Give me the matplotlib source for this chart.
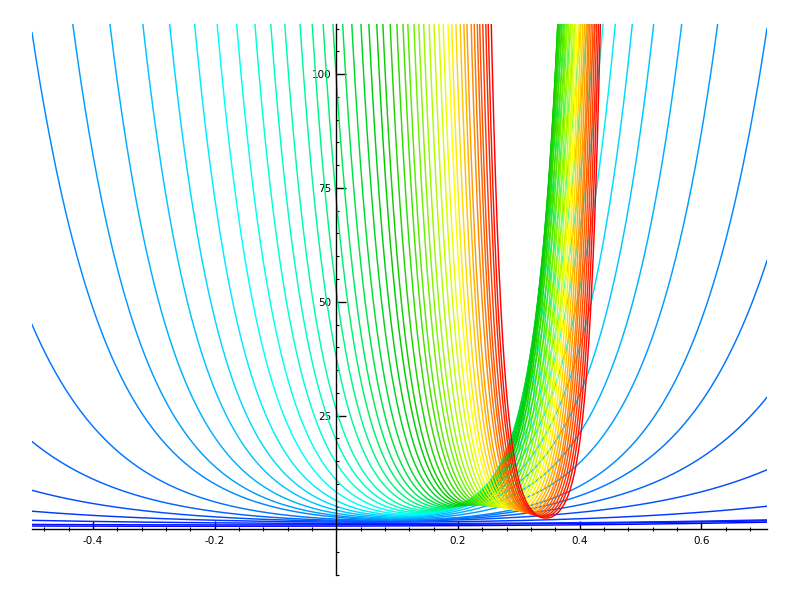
import colorsys

import matplotlib
matplotlib.use('Agg')
import matplotlib.pyplot as plt
from matplotlib.ticker import FixedLocator, MultipleLocator
import numpy as np

plt.rcParams['axes.unicode_minus'] = False

X_MIN, X_MAX = -0.5, 0.708
Y_MIN, Y_MAX = -10, 111
WALL_Y = 110.0          # height at which the branch positions were read
BASE = 0.5              # floor shared by every curve

# flattest curves (walls outside the view): value at x=-0.5, value at x=0.708, minimum
edge_left = [0.75, 1.1, 2.0, 4.0, 8.6, 19.3, 45.0]
edge_right = [1.6, 1.9, 2.1, 5.1, 13.1, 29.0, 59.0]
edge_min = [0.7, 1.0, 1.3, 1.6, 1.8, 1.9, 2.0]

# remaining curves: x where left / right branch reach y=110, and minimum value
wall_left = [-0.501, -0.432, -0.371, -0.317, -0.273, -0.232, -0.195, -0.163,
             -0.133, -0.107, -0.084, -0.059, -0.039, -0.021, -0.005, 0.011,
             0.026, 0.041, 0.054, 0.067, 0.077, 0.089, 0.100, 0.110,
             0.118, 0.128, 0.136, 0.144, 0.153, 0.161, 0.169, 0.176,
             0.184, 0.190, 0.197, 0.204, 0.210, 0.215, 0.222, 0.227,
             0.232, 0.236, 0.241, 0.246, 0.250, 0.255]
wall_right = [0.708, 0.626, 0.567, 0.521, 0.486, 0.458, 0.438, 0.425,
              0.412, 0.401, 0.392, 0.385, 0.379, 0.375, 0.371, 0.368,
              0.366, 0.365, 0.364, 0.364, 0.364, 0.365, 0.367, 0.370,
              0.373, 0.376, 0.379, 0.382, 0.385, 0.388, 0.391, 0.393,
              0.396, 0.399, 0.402, 0.405, 0.408, 0.411, 0.414, 0.416,
              0.419, 0.422, 0.425, 0.428, 0.431, 0.434]
wall_min = [2.1, 2.3, 2.5, 2.7, 2.9, 3.1, 3.3, 3.5,
            3.7, 3.9, 4.1, 4.3, 4.5, 4.7, 4.9, 5.0,
            5.1, 5.2, 5.3, 5.35, 5.4, 5.4, 5.4, 5.35,
            5.3, 5.2, 5.1, 5.0, 4.9, 4.8, 4.7, 4.6,
            4.5, 4.35, 4.2, 4.05, 3.9, 3.75, 3.6, 3.45,
            3.3, 3.15, 3.0, 2.85, 2.7, 2.5]


def from_edges(v_l, v_r, y_min):
    amp = y_min - BASE
    p_l = np.arccosh(max((v_l - BASE) / amp, 1.0))
    p_r = np.arccosh(max((v_r - BASE) / amp, 1.0))
    rate = (p_l + p_r) / (X_MAX - X_MIN)
    centre = X_MIN + p_l / rate
    return centre, rate, amp


def from_walls(x_l, x_r, y_min):
    amp = y_min - BASE
    half = (x_r - x_l) / 2
    rate = np.arccosh((WALL_Y - BASE) / amp) / half
    return (x_l + x_r) / 2, rate, amp


def curve_colour(t):
    h = 0.667 * (1 - t)
    # greens in the reference come out a little deeper than pure hsv green
    v = 1 - 0.2 * np.exp(-((h - 0.333) / 0.07) ** 2)
    return colorsys.hsv_to_rgb(h, 1, v)


params = [from_edges(*v) for v in zip(edge_left, edge_right, edge_min)]
params += [from_walls(*v) for v in zip(wall_left, wall_right, wall_min)]
n = len(params)

fig = plt.figure(figsize=(8, 6), dpi=100)
ax = fig.add_axes([0.04, 0.0417, 0.9187, 0.9183])

x = np.linspace(X_MIN, X_MAX, 3000)
for k, (centre, rate, amp) in enumerate(params):
    y = BASE + amp * np.cosh(np.minimum(rate * np.abs(x - centre), 12))
    ax.plot(x, y, color=curve_colour(k / (n - 1)), lw=1.05, zorder=2)

ax.set_xlim(X_MIN, X_MAX)
ax.set_ylim(Y_MIN, Y_MAX)

for side in ('top', 'right'):
    ax.spines[side].set_visible(False)
ax.spines['left'].set_position('zero')
ax.spines['bottom'].set_position('zero')
for side in ('left', 'bottom'):
    ax.spines[side].set_linewidth(1.0)
    ax.spines[side].set_zorder(5)

ax.xaxis.set_major_locator(FixedLocator([-0.4, -0.2, 0.2, 0.4, 0.6]))
ax.xaxis.set_minor_locator(MultipleLocator(0.04))
ax.yaxis.set_major_locator(FixedLocator([25, 50, 75, 100]))
ax.yaxis.set_minor_locator(MultipleLocator(5))
ax.set_xticklabels(['-0.4', '-0.2', '0.2', '0.4', '0.6'])
ax.set_yticklabels(['25', '50', '75', '100'])

ax.tick_params(axis='x', which='major', direction='in', length=5.5, width=1,
               pad=5, labelsize=7.5)
ax.tick_params(axis='x', which='minor', direction='inout', length=3.5, width=0.8)
ax.tick_params(axis='y', which='major', direction='in', length=7, width=1,
               pad=3.5, labelsize=7.5)
ax.tick_params(axis='y', which='minor', direction='in', length=2.5, width=0.8)

fig.savefig('out.png', dpi=100)
